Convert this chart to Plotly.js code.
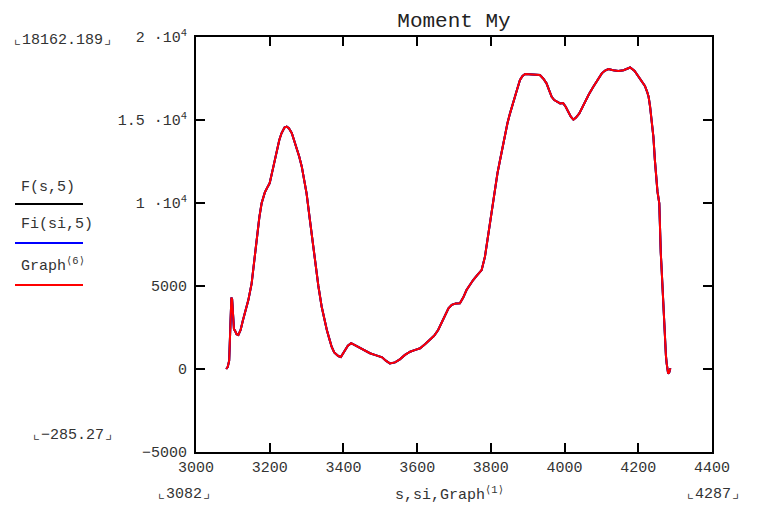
<!DOCTYPE html>
<html>
<head>
<meta charset="utf-8">
<script src="https://cdn.plot.ly/plotly-3.0.1.min.js"></script>
<style>html,body{margin:0;padding:0;background:#fff;}#chart{width:758px;height:506px;}</style>
</head>
<body>
<div id="chart"></div>
<script>
// Position s (x) and moment My (y)
const s = [3082,3086,3090,3093,3096,3098,3100,3103,3106,3110,3115,3121,3127,3133,3142,3151,3158,3164,3172,3178,3187,3195,3200,3210,3219,3226,3232,3240,3246,3252,3260,3266,3273,3280,3287,3294,3300,3309,3316,3323,3332,3341,3348,3355,3362,3368,3375,3386,3393,3400,3404,3412,3421,3432,3445,3458,3472,3485,3495,3505,3515,3526,3540,3553,3567,3581,3595,3608,3622,3635,3646,3657,3666,3676,3685,3694,3705,3716,3725,3734,3743,3752,3763,3775,3784,3793,3802,3811,3818,3825,3832,3838,3845,3852,3858,3865,3872,3879,3886,3893,3905,3920,3933,3942,3951,3958,3965,3972,3979,3988,3996,4003,4010,4017,4024,4031,4040,4048,4055,4066,4078,4090,4101,4110,4119,4132,4146,4160,4170,4178,4190,4200,4210,4218,4224,4228,4232,4236,4239,4241,4245,4248,4252,4257,4259,4261,4263,4266,4268,4270,4272,4275,4277,4279,4281,4284,4287];
const My = [0,120,500,2400,4300,4200,3000,2400,2300,2100,2050,2350,2900,3350,4150,5160,6560,7970,9170,9980,10650,11000,11200,12190,13190,13800,14200,14550,14600,14500,14200,13800,13300,12800,12190,11400,10580,8980,7700,6570,5000,3750,3000,2350,1800,1340,1000,780,720,1000,1150,1400,1560,1420,1250,1100,950,850,780,700,500,340,400,580,850,1040,1150,1250,1500,1750,2000,2350,2800,3250,3650,3860,3950,3960,4300,4760,5100,5360,5650,5960,6770,8170,9580,10980,11800,12590,13400,14200,14800,15400,15900,16400,16900,17410,17650,17770,17750,17760,17710,17500,17210,16800,16400,16200,16100,16000,16020,15800,15500,15200,15020,15150,15400,15750,16100,16550,17000,17450,17810,17980,18070,18000,17950,18000,18100,18162,17950,17610,17300,17050,16700,16400,15800,15100,14500,13990,12600,11580,10700,9980,7970,7000,6160,4800,3750,2600,1550,800,340,-100,-285,-200,50];

const xTicks = [3000,3200,3400,3600,3800,4000,4200,4400];
const yTicks = [-5000,0,5000,10000,15000,20000];
const yTickText = ["\u22125000","0","5000","1 \u00b710<sup>4</sup>","1.5 \u00b710<sup>4</sup>","2 \u00b710<sup>4</sup>"];

const seriesNames = ["F(s,5)","Fi(si,5)","Graph\u27e86\u27e9"];
const seriesColors = ["#000000","#0000ff","#ff0000"];

const mono = "Liberation Mono, Courier New, DejaVu Sans Mono, monospace";
const tickFont = {family: mono, size: 15, color: "#333"};

const traces = seriesNames.map((n, i) => ({
  x: s, y: My, type: "scatter", mode: "lines", name: n,
  line: {color: seriesColors[i], width: 2}, showlegend: false
}));

// paper coordinate helpers from pixel positions (plot area 196..712 x 37..452)
const px = p => (p - 196) / 516;
const py = p => (452 - p) / 415;

const legendLabels = ["F(s,5)","Fi(si,5)","Graph<sup>\u27e86\u27e9</sup>"];
const legendTextY = [187, 224, 265];
const legendLineY = [204, 243, 285];

const annotations = legendLabels.map((t, i) => ({
  xref: "paper", yref: "paper", x: px(19), y: py(legendTextY[i]),
  xanchor: "left", yanchor: "middle", text: t, showarrow: false,
  font: {family: mono, size: 15, color: "#333"}
}));
const corner = (t, x, y, anchor) => ({
  xref: "paper", yref: "paper", x: px(x), y: py(y), xanchor: anchor, yanchor: "middle",
  text: "\u231e" + t + "\u231f", showarrow: false, font: {family: mono, size: 15, color: "#333"}
});
annotations.push(corner("18162.189", 62, 40, "center"));
annotations.push(corner("\u2212285.27", 72, 435, "center"));
annotations.push(corner("3082", 184, 494, "center"));
annotations.push(corner("4287", 713, 494, "center"));
annotations.push({
  xref: "paper", yref: "paper", x: px(449), y: py(494), xanchor: "center", yanchor: "middle",
  text: "s,si,Graph<sup>\u27e81\u27e9</sup>", showarrow: false, font: {family: mono, size: 15, color: "#333"}
});

const shapes = legendLineY.map((y, i) => ({
  type: "line", xref: "paper", yref: "paper", x0: px(15), x1: px(83), y0: py(y), y1: py(y),
  line: {color: seriesColors[i], width: 2}
}));

const layout = {
  width: 758, height: 506,
  margin: {l: 196, r: 46, t: 37, b: 54},
  paper_bgcolor: "#fff", plot_bgcolor: "#fff",
  title: {text: "Moment My", x: 0.5, xref: "paper", y: 1 - 20/506, yanchor: "middle",
          font: {family: mono, size: 21, color: "#222"}},
  xaxis: {range: [3000, 4400], tickvals: xTicks, ticktext: xTicks.map(String),
          showgrid: false, zeroline: false, showline: true, linecolor: "#000", linewidth: 2,
          mirror: "allticks", ticks: "inside", ticklen: 9, tickwidth: 2, tickcolor: "#000",
          tickfont: tickFont},
  yaxis: {range: [-5000, 20000], tickvals: yTicks, ticktext: yTickText,
          showgrid: false, zeroline: false, showline: true, linecolor: "#000", linewidth: 2,
          mirror: "allticks", ticks: "inside", ticklen: 9, tickwidth: 2, tickcolor: "#000",
          tickfont: tickFont, ticklabelstandoff: 4},
  annotations: annotations,
  shapes: shapes,
  showlegend: false
};

Plotly.newPlot("chart", traces, layout, {displayModeBar: false, staticPlot: true});
</script>
</body>
</html>
